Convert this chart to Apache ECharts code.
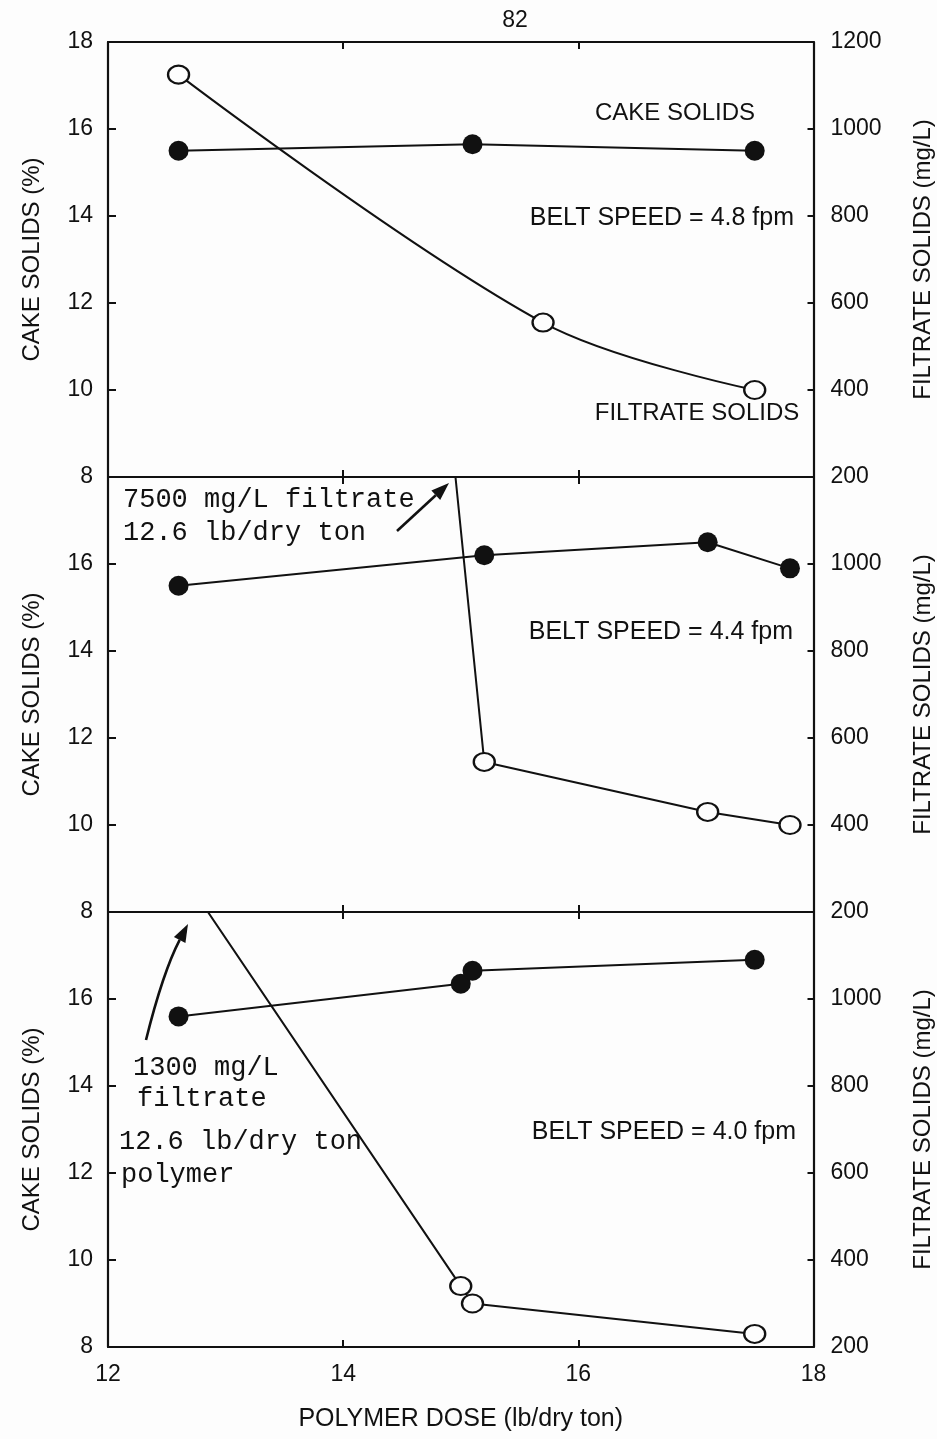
<!DOCTYPE html>
<html>
<head>
<meta charset="utf-8">
<script src="https://cdn.jsdelivr.net/npm/echarts@6/dist/echarts.min.js"></script>
<style>
  html, body { margin: 0; padding: 0; background: #fdfdfd; }
  #chart { width: 937px; height: 1439px; }
</style>
</head>
<body>
<div id="chart"></div>
<script>
// Axis ticks shared by the three panels
const doseTicks = [12, 14, 16, 18];
const cakeTicks = [8, 10, 12, 14, 16, 18];
const filtrateTicks = [200, 400, 600, 800, 1000, 1200];

// Belt speed 4.8 fpm
const dose48Cake = [12.6, 15.1, 17.5];
const cake48 = [15.5, 15.65, 15.5];
const dose48Filtrate = [12.6, 15.7, 17.5];
const filtrate48 = [1125, 555, 400];

// Belt speed 4.4 fpm (first filtrate reading, 7500 mg/L, runs off the scale)
const dose44Cake = [12.6, 15.2, 17.1, 17.8];
const cake44 = [15.5, 16.2, 16.5, 15.9];
const dose44Filtrate = [12.6, 15.2, 17.1, 17.8];
const filtrate44 = [7500, 545, 430, 400];

// Belt speed 4.0 fpm (first filtrate reading, 1300 mg/L, runs off the scale)
const dose40Cake = [12.6, 15.0, 15.1, 17.5];
const cake40 = [15.6, 16.35, 16.65, 16.9];
const dose40Filtrate = [12.6, 15.0, 15.1, 17.5];
const filtrate40 = [1300, 340, 300, 230];

const panels = [
  { speed: '4.8', cakeDose: dose48Cake, cake: cake48, filtDose: dose48Filtrate, filt: filtrate48, smooth: 0.35 },
  { speed: '4.4', cakeDose: dose44Cake, cake: cake44, filtDose: dose44Filtrate, filt: filtrate44, smooth: false },
  { speed: '4.0', cakeDose: dose40Cake, cake: cake40, filtDose: dose40Filtrate, filt: filtrate40, smooth: false }
];

const INK = '#111';
const PAPER = '#fdfdfd';
const SANS = '"Liberation Sans", Arial, sans-serif';
const MONO = '"Liberation Mono", "Courier New", monospace';
const PLOT_LEFT = 108, PLOT_RIGHT = 123.5, PLOT_TOP = 42, PANEL_H = 435;

const zip = (xs, ys) => xs.map((x, i) => [x, ys[i]]);
const stepOf = t => t[1] - t[0];

const grids = [], xAxes = [], yAxes = [], series = [];

panels.forEach((p, i) => {
  grids.push({
    left: PLOT_LEFT, right: PLOT_RIGHT, top: PLOT_TOP + i * PANEL_H, height: PANEL_H,
    containLabel: false, outerBoundsMode: 'none'
  });
  const isLast = i === panels.length - 1;
  const xBase = {
    type: 'value', gridIndex: i,
    min: doseTicks[0], max: doseTicks[doseTicks.length - 1], interval: stepOf(doseTicks),
    axisLine: { show: true, onZero: false, lineStyle: { color: INK, width: 2.2 } },
    axisTick: { show: true, inside: true, length: 7, lineStyle: { color: INK, width: 2 } },
    splitLine: { show: false }
  };
  xAxes.push(Object.assign({}, xBase, {
    position: 'bottom',
    axisLabel: { show: isLast, color: INK, fontFamily: SANS, fontSize: 23, margin: 16 },
    name: isLast ? 'POLYMER DOSE (lb/dry ton)' : '',
    nameLocation: 'middle', nameGap: 60,
    nameTextStyle: { color: INK, fontFamily: SANS, fontSize: 25 }
  }));
  xAxes.push(Object.assign({}, xBase, { position: 'top', axisLabel: { show: false } }));

  yAxes.push({
    type: 'value', gridIndex: i, position: 'left',
    min: cakeTicks[0], max: cakeTicks[cakeTicks.length - 1], interval: stepOf(cakeTicks),
    axisLine: { show: true, lineStyle: { color: INK, width: 2.2 } },
    axisTick: { show: true, inside: true, length: 8, lineStyle: { color: INK, width: 2 } },
    splitLine: { show: false },
    axisLabel: {
      color: INK, fontFamily: SANS, fontSize: 23, margin: 15,
      formatter: v => (i > 0 && v === cakeTicks[cakeTicks.length - 1]) ? '' : String(v)
    },
    name: 'CAKE SOLIDS (%)', nameLocation: 'middle', nameRotate: 90, nameGap: 64,
    nameTextStyle: { color: INK, fontFamily: SANS, fontSize: 24 }
  });
  yAxes.push({
    type: 'value', gridIndex: i, position: 'right',
    min: filtrateTicks[0], max: filtrateTicks[filtrateTicks.length - 1], interval: stepOf(filtrateTicks),
    axisLine: { show: true, lineStyle: { color: INK, width: 2.2 } },
    axisTick: { show: true, inside: true, length: 6, lineStyle: { color: INK, width: 2 } },
    splitLine: { show: false },
    axisLabel: {
      color: INK, fontFamily: SANS, fontSize: 23, margin: 17,
      formatter: v => (i > 0 && v === filtrateTicks[filtrateTicks.length - 1]) ? '' : String(v)
    },
    name: 'FILTRATE SOLIDS (mg/L)', nameLocation: 'middle', nameRotate: 90, nameGap: 98,
    nameTextStyle: { color: INK, fontFamily: SANS, fontSize: 24 }
  });

  series.push({
    type: 'line', xAxisIndex: i * 2, yAxisIndex: i * 2,
    data: zip(p.cakeDose, p.cake),
    symbol: 'circle', symbolSize: 20,
    itemStyle: { color: INK },
    lineStyle: { color: INK, width: 2 },
    emphasis: { disabled: true }, z: 3
  });
  series.push({
    type: 'line', xAxisIndex: i * 2, yAxisIndex: i * 2 + 1,
    data: zip(p.filtDose, p.filt),
    smooth: p.smooth,
    symbol: 'circle', symbolSize: [21, 18],
    itemStyle: { color: PAPER, borderColor: INK, borderWidth: 2.2 },
    lineStyle: { color: INK, width: 2 },
    emphasis: { disabled: true }, z: 4
  });
});

// Annotation text and arrows
function txt(x, y, text, font, size, align) {
  return { type: 'text', x, y, z: 10,
    style: { text, fill: INK, font: size + 'px ' + font, textAlign: align || 'left', textVerticalAlign: 'middle' } };
}
function arrow(tail, tip, ctrl) {
  const dir = ctrl ? [tip[0] - ctrl[0], tip[1] - ctrl[1]] : [tip[0] - tail[0], tip[1] - tail[1]];
  const len = Math.hypot(dir[0], dir[1]);
  const u = [dir[0] / len, dir[1] / len], n = [-u[1], u[0]];
  const headL = 18, headW = 6.5;
  const base = [tip[0] - u[0] * headL, tip[1] - u[1] * headL];
  const shaft = ctrl
    ? { type: 'bezierCurve', shape: { x1: tail[0], y1: tail[1], x2: base[0], y2: base[1], cpx1: ctrl[0], cpy1: ctrl[1] },
        style: { stroke: INK, lineWidth: 2.6, fill: null } }
    : { type: 'line', shape: { x1: tail[0], y1: tail[1], x2: base[0], y2: base[1] },
        style: { stroke: INK, lineWidth: 2.6 } };
  const head = { type: 'polygon', shape: { points: [tip,
      [base[0] + n[0] * headW, base[1] + n[1] * headW],
      [base[0] - n[0] * headW, base[1] - n[1] * headW]] },
    style: { fill: INK } };
  return { type: 'group', z: 10, children: [shaft, head] };
}

const graphic = [
  txt(515, 21, '82', SANS, 23, 'center'),
  txt(675, 113, 'CAKE SOLIDS', SANS, 24, 'center'),
  txt(697, 413, 'FILTRATE SOLIDS', SANS, 24, 'center'),
  txt(794, 218, 'BELT SPEED = ' + panels[0].speed + ' fpm', SANS, 25, 'right'),
  txt(793, 632, 'BELT SPEED = ' + panels[1].speed + ' fpm', SANS, 25, 'right'),
  txt(796, 1132, 'BELT SPEED = ' + panels[2].speed + ' fpm', SANS, 25, 'right'),
  txt(123, 500, '7500 mg/L filtrate', MONO, 27),
  txt(123, 533, '12.6 lb/dry ton', MONO, 27),
  arrow([397, 531], [449, 483]),
  txt(133, 1068, '1300 mg/L', MONO, 27),
  txt(137, 1099, 'filtrate', MONO, 27),
  txt(119, 1142, '12.6 lb/dry ton', MONO, 27),
  txt(121, 1175, 'polymer', MONO, 27),
  arrow([146, 1040], [188, 924], [163, 972])
];

const chart = echarts.init(document.getElementById('chart'), null, { renderer: 'canvas' });
chart.setOption({
  backgroundColor: PAPER,
  animation: false,
  grid: grids,
  xAxis: xAxes,
  yAxis: yAxes,
  series,
  graphic
});
</script>
</body>
</html>
